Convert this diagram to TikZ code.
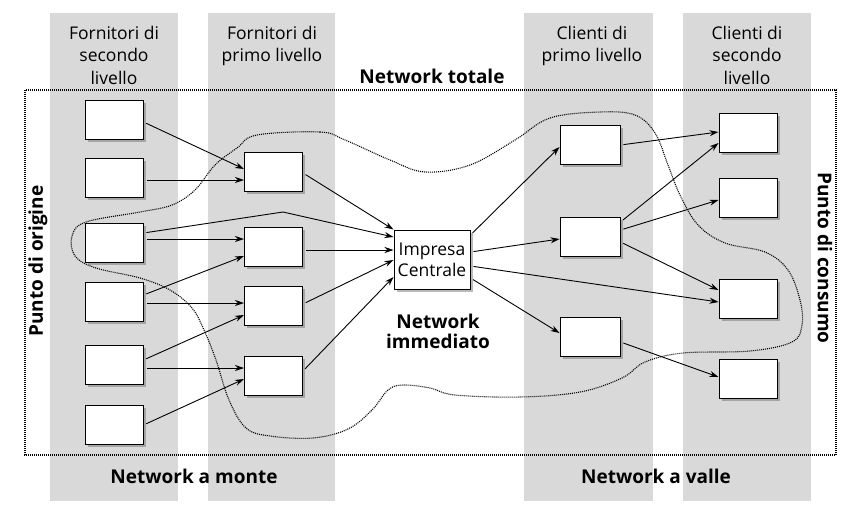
\documentclass[tikz,border=0pt]{standalone}
\usepackage{fontspec}
\setmainfont{Open Sans}
\usetikzlibrary{arrows.meta,shadows}

\begin{document}
\begin{tikzpicture}[x=1pt,y=-1pt,
    every node/.style={font=\fontsize{17.5}{22.5}\selectfont,align=center},
    blk/.style={draw,fill=white,line width=1pt,minimum width=58pt,minimum height=39pt,inner sep=0pt,
        drop shadow={shadow xshift=2.5pt,shadow yshift=-2.5pt,fill=black!60,opacity=.45}},
    lnk/.style={-{Stealth[length=9pt,width=6pt]},line width=.9pt,shorten <=3pt},
    bld/.style={font=\fontsize{19}{19.5}\selectfont\bfseries},
    dots/.style={line width=1.1pt,dash pattern=on 1pt off 1pt}]
\useasboundingbox (0,0) rectangle (842,504);
% gray columns
\fill[gray!30] (50,13) rectangle (178,501);
\fill[gray!30] (208,13) rectangle (335,501);
\fill[gray!30] (524,13) rectangle (653,501);
\fill[gray!30] (683,13) rectangle (811,501);

\node[anchor=north,inner sep=0pt] (hf2) at (114,26) {Fornitori di\\secondo\\livello};
\node[anchor=north,inner sep=0pt] (hf1) at (272,26) {Fornitori di\\primo livello};
\node[anchor=north,inner sep=0pt] (hc1) at (592,26) {Clienti di\\primo livello};
\node[anchor=north,inner sep=0pt] (hc2) at (747,26) {Clienti di\\secondo\\livello};

% network totale
\draw[dots] (25,90) rectangle (836,455);
\node[bld,anchor=base] (tot) at (432,83) {Network totale};
\node[bld,rotate=90] (orig) at (38,261) {Punto di origine};
\node[bld,rotate=-90] (cons) at (825,258) {Punto di consumo};
\node[bld,anchor=base] (monte) at (194,483) {Network a monte};
\node[bld,anchor=base] (valle) at (656,483) {Network a valle};
\node[bld,anchor=base] (imm) at (438,348) {Network\\immediato};

% network immediato
\draw[dots] plot[smooth cycle,tension=.6] coordinates {
    (257,135) (320,132) (345,140) (390,160) (425,172) (470,165) (515,140) (550,118)
    (600,112) (635,115) (655,133) (668,165) (680,195) (698,225) (725,243) (765,252)
    (788,270) (800,300) (802,325) (792,342) (750,351) (683,353) (645,362) (622,378)
    (580,392) (520,397) (455,395) (430,388) (403,385) (388,390) (372,410) (348,429)
    (313,438) (270,436) (246,428) (229,400) (216,360) (204,330) (192,308) (170,290)
    (140,278) (96,268) (75,256) (72,236) (86,222) (140,212) (172,205) (195,190)
    (215,165) (237,148)};

% fornitori
\node[blk] (s1) at (114,120) {};
\node[blk] (s2) at (114,177.5) {};
\node[blk] (s3) at (114,242.5) {};
\node[blk] (s4) at (114,301.5) {};
\node[blk] (s5) at (114,365) {};
\node[blk] (s6) at (114,424.5) {};
\node[blk] (p1) at (273.5,171.5) {};
\node[blk] (p2) at (273.5,246.5) {};
\node[blk] (p3) at (273.5,305.5) {};
\node[blk] (p4) at (273.5,375.5) {};
\node[blk,minimum width=76pt,minimum height=59pt,font=\fontsize{17.5}{21}\selectfont] (imp) at (432,259.5) {Impresa\\Centrale};
% clienti
\node[blk,minimum width=60pt] (c1) at (590,144.5) {};
\node[blk,minimum width=60pt] (c2) at (590,237) {};
\node[blk,minimum width=60pt] (c3) at (590,336.5) {};
\node[blk] (d1) at (748,133) {};
\node[blk] (d2) at (748,197.5) {};
\node[blk] (d3) at (748,298.5) {};
\node[blk] (d4) at (748,379) {};

\coordinate (kink) at (283,212);

\draw[lnk] ([yshift=-2pt]s1.east) -- ([yshift=2.5pt]p1.west);
\draw[lnk] ([yshift=-2.5pt]s2.east) -- ([yshift=-8.5pt]p1.west);
\draw[lnk] ([yshift=9.5pt]s3.east) -- (kink) -- ([yshift=22.5pt]imp.west);
\draw[lnk] ([yshift=3.5pt]s3.east) -- ([yshift=7.5pt]p2.west);
\draw[lnk] ([yshift=6.5pt]s4.east) -- ([yshift=-9.5pt]p2.west);
\draw[lnk] ([yshift=-1.5pt]s4.east) -- ([yshift=2.5pt]p3.west);
\draw[lnk] ([yshift=5pt]s5.east) -- ([yshift=-9.5pt]p3.west);
\draw[lnk] ([yshift=-3pt]s5.east) -- ([yshift=7.5pt]p4.west);
\draw[lnk] ([yshift=-.5pt]s6.east) -- ([yshift=-3.5pt]p4.west);

\draw[lnk] ([yshift=-1.5pt]p1.east) -- (imp.north west);
\draw[lnk] ([yshift=-3.5pt]p2.east) -- ([yshift=9.5pt]imp.west);
\draw[lnk] ([yshift=1.5pt]p3.east) -- ([yshift=-.5pt]imp.west);
\draw[lnk] ([yshift=4.5pt]p4.east) -- ([yshift=-17.5pt]imp.west);

\draw[lnk] ([yshift=24.5pt]imp.east) -- ([yshift=-2.5pt]c1.west);
\draw[lnk] ([yshift=7.5pt]imp.east) -- ([yshift=-2pt]c2.west);
\draw[lnk] ([yshift=-6.5pt]imp.east) -- ([yshift=-3.5pt]d3.west);
\draw[lnk] ([yshift=-18.5pt]imp.east) -- ([yshift=3.5pt]c3.west);

\draw[lnk] ([yshift=-.5pt]c1.east) -- ([yshift=1pt]d1.west);
\draw[lnk] ([yshift=15pt]c2.east) -- ([yshift=-10pt]d1.west);
\draw[lnk] ([yshift=7pt]c2.east) -- ([yshift=-2.5pt]d2.west);
\draw[lnk] ([yshift=-5pt]c2.east) -- ([yshift=8.5pt]d3.west);
\draw[lnk] ([yshift=-5.5pt]c3.east) -- ([yshift=2pt]d4.west);
\end{tikzpicture}
\end{document}
